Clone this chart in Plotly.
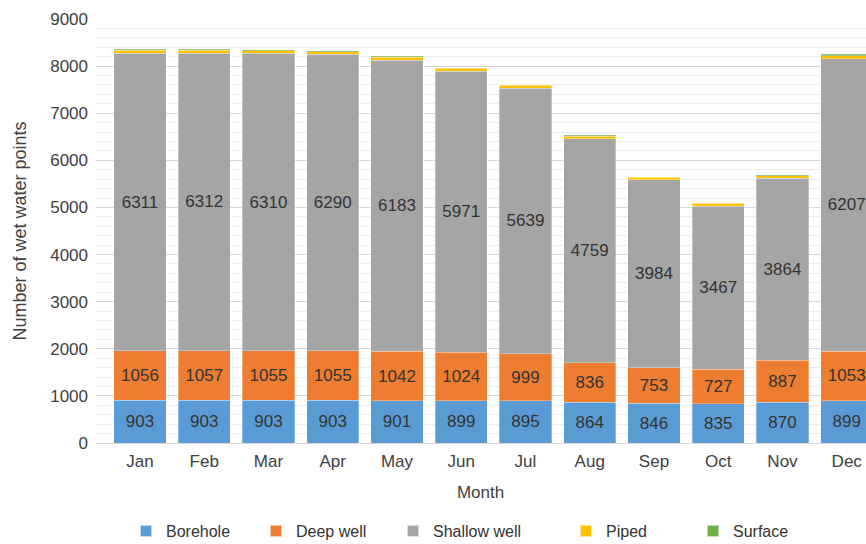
import plotly.graph_objects as go

months = ["Jan", "Feb", "Mar", "Apr", "May", "Jun", "Jul", "Aug", "Sep", "Oct", "Nov", "Dec"]
borehole = [903, 903, 903, 903, 901, 899, 895, 864, 846, 835, 870, 899]
deep_well = [1056, 1057, 1055, 1055, 1042, 1024, 999, 836, 753, 727, 887, 1053]
shallow_well = [6311, 6312, 6310, 6290, 6183, 5971, 5639, 4759, 3984, 3467, 3864, 6207]
piped = [65, 65, 60, 60, 65, 60, 60, 55, 55, 55, 55, 60]
surface = [20, 20, 20, 15, 15, 15, 15, 15, 15, 15, 15, 30]

series = [
    ("Borehole", borehole, "#5B9BD5", True),
    ("Deep well", deep_well, "#ED7D31", True),
    ("Shallow well", shallow_well, "#A5A5A5", True),
    ("Piped", piped, "#FFC000", False),
    ("Surface", surface, "#70AD47", False),
]

legend_px = [146, 276, 413, 586, 713]  # symbol centres (pixels)
FONT = "Liberation Sans, Arial, sans-serif"

fig = go.Figure()
for i, (name, vals, color, show) in enumerate(series):
    lname = "legend" if i == 0 else f"legend{i+1}"
    fig.add_trace(go.Bar(
        name=name, x=months, y=vals,
        marker=dict(color=color, line=dict(color="rgba(255,255,255,0.6)", width=0.5)),
        text=[str(v) for v in vals] if show else None,
        textposition="inside" if show else "none",
        insidetextanchor="middle",
        textfont=dict(family=FONT, size=17, color="#333333"),
        legend=lname,
        showlegend=True,
        cliponaxis=True,
    ))

layout_legends = {}
for i, px in enumerate(legend_px):
    lname = "legend" if i == 0 else f"legend{i+1}"
    layout_legends[lname] = dict(
        xref="container", yref="container",
        x=(px - 20) / 866, xanchor="left",
        y=1 - 531 / 544, yanchor="middle",
        orientation="h",
        font=dict(family=FONT, size=16, color="#333333"),
        bgcolor="rgba(0,0,0,0)",
        borderwidth=0,
        itemsizing="constant",
    )

fig.update_layout(
    width=866, height=544,
    margin=dict(l=95, r=0, t=19, b=101, autoexpand=False),
    paper_bgcolor="white", plot_bgcolor="white",
    barmode="stack", bargap=0.19,
    font=dict(family=FONT, size=17, color="#404040"),
    uniformtext=dict(mode="show", minsize=10),
    xaxis=dict(
        range=[-0.7, 11.3], automargin=False,
        title=dict(text="Month", font=dict(size=17, color="#404040"), standoff=15),
        tickfont=dict(size=17, color="#404040"),
        showline=True, linecolor="#d9d9d9", linewidth=1,
        ticks="", ticklabelstandoff=3,
    ),
    yaxis=dict(
        range=[0, 9000], dtick=1000, automargin=False,
        title=dict(text="Number of wet water points", font=dict(size=18, color="#404040"), standoff=18),
        tickfont=dict(size=17, color="#404040"),
        showgrid=True, gridcolor="#d9d9d9", gridwidth=1,
        minor=dict(dtick=200, showgrid=True, gridcolor="#ececec", gridwidth=1),
        zeroline=False, ticks="", ticklabelstandoff=6,
    ),
    **layout_legends,
)

fig.write_html(
    "out.html",
    config={"displayModeBar": False},
    post_script="document.body.style.margin='0';document.body.style.overflow='hidden';",
)
